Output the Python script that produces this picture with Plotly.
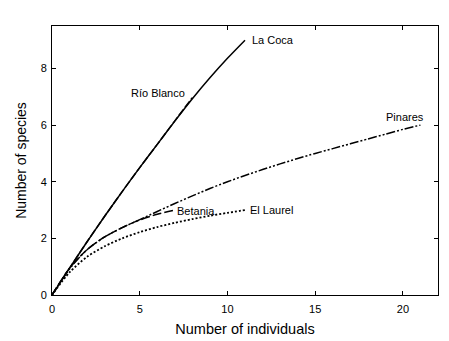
import plotly.graph_objects as go

# Data
la_coca_x = [0, 1, 2, 3, 4, 5, 6, 7, 8, 9, 10, 11]
la_coca_y = [0, 0.95, 1.88, 2.78, 3.65, 4.5, 5.32, 6.14, 6.93, 7.67, 8.36, 9.0]

rio_blanco_x = [0, 1, 2, 3, 4, 5, 6, 7, 8]
rio_blanco_y = [0, 0.95, 1.88, 2.78, 3.65, 4.5, 5.32, 6.15, 6.97]

pinares_x = list(range(0, 22))
pinares_y = [0, 0.92, 1.6, 2.05, 2.38, 2.66, 2.95, 3.23, 3.5, 3.76, 4.0, 4.22, 4.43, 4.63,
             4.82, 5.0, 5.17, 5.34, 5.51, 5.68, 5.85, 6.0]

betania_x = [0, 1, 2, 3, 4, 5, 6, 7]
betania_y = [0, 0.95, 1.6, 2.05, 2.38, 2.65, 2.85, 3.0]

el_laurel_x = [0, 1, 2, 3, 4, 5, 6, 7, 8, 9, 10, 11]
el_laurel_y = [0, 0.8, 1.35, 1.72, 2.0, 2.22, 2.4, 2.55, 2.68, 2.8, 2.9, 3.0]

x_ticks = [0, 5, 10, 15, 20]
y_ticks = [0, 2, 4, 6, 8]

fig = go.Figure()

def add(x, y, dash, width=1.5):
    fig.add_trace(go.Scatter(x=x, y=y, mode="lines",
                             line=dict(color="black", width=width, dash=dash, shape="spline",
                                       smoothing=0.8),
                             showlegend=False, hoverinfo="skip"))

add(el_laurel_x, el_laurel_y, "2px,2px", 1.8)
add(betania_x, betania_y, "9px,3px")
add(pinares_x, pinares_y, "9px,2px,2px,2px,2px,2px")
add(la_coca_x, la_coca_y, "solid")
add(rio_blanco_x, rio_blanco_y, "8px,2px")

FONT = "Liberation Sans, Arial, sans-serif"
label_font = dict(family=FONT, size=11, color="black")
labels = [
    ("La Coca", 11.3, 9.0, "left"),
    ("Río Blanco", 7.67, 7.12, "right"),
    ("Pinares", 21.3, 6.28, "right"),
    ("Betania", 7.03, 2.98, "left"),
    ("El Laurel", 11.15, 3.0, "left"),
]
for text, lx, ly, anchor in labels:
    fig.add_annotation(x=lx, y=ly, text=text, showarrow=False, xanchor=anchor,
                       yanchor="middle", font=label_font)

axis_common = dict(showgrid=False, zeroline=False, showline=True, linecolor="black",
                   linewidth=1, mirror="ticks", ticks="inside", ticklen=4,
                   tickcolor="black", tickwidth=1, automargin=False,
                   tickfont=dict(family=FONT, size=11, color="black"))

fig.update_xaxes(range=[0, 22], tickvals=x_ticks, ticklabelstandoff=4,
                 title=dict(text="Number of individuals", standoff=9,
                            font=dict(family=FONT, size=14.5, color="black")),
                 **axis_common)
fig.update_yaxes(range=[0, 9.5], tickvals=y_ticks, ticklabelstandoff=2,
                 title=dict(text="Number of species", standoff=10,
                            font=dict(family=FONT, size=14, color="black")),
                 **axis_common)

fig.update_layout(width=441, height=333, margin=dict(l=44, r=11, t=18, b=46),
                  plot_bgcolor="white", paper_bgcolor="white")

fig.write_html("out.html")
